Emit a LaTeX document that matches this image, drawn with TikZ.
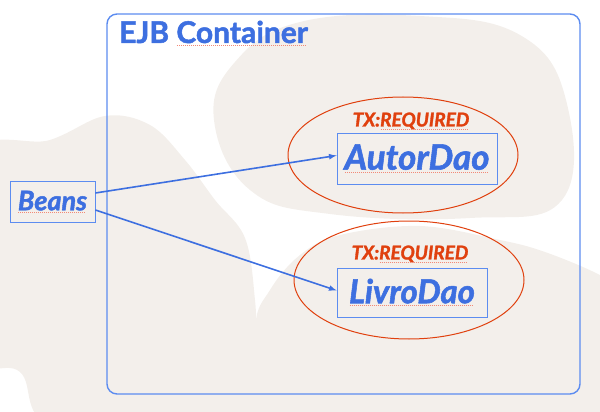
\documentclass[tikz,border=0pt]{standalone}
\usepackage{fontspec}
\setmainfont{Lato}[BoldFeatures={FakeBold=1.6},BoldItalicFeatures={FakeBold=1.6}]
\usetikzlibrary{arrows,shapes.geometric}

\definecolor{ejbblue}{HTML}{3D6FE0}
\definecolor{boxblue}{HTML}{5C8CF0}
\definecolor{txred}{HTML}{E0400E}
\definecolor{blobgray}{HTML}{F3EFEB}
\definecolor{spellred}{HTML}{F28A78}

\newsavebox{\spellbox}
\newcommand{\spellmark}[1]{\sbox{\spellbox}{#1}\rlap{\usebox{\spellbox}}%
  {\color{spellred}\raisebox{-3pt}{\leaders\hbox to 2pt{\hss\rule{1pt}{0.8pt}\hss}\hskip\wd\spellbox}}}

\begin{document}
\begin{tikzpicture}[x=1pt,y=-1pt,
    daobox/.style={draw=boxblue,line width=0.8pt,text=ejbblue,inner sep=2pt,
      font=\bfseries\itshape\fontsize{34}{34}\selectfont},
    txring/.style={draw=txred,line width=1pt,ellipse,inner sep=0pt},
    txlabel/.style={text=txred,inner sep=0pt,
      font=\bfseries\itshape\fontsize{19}{19}\selectfont},
    call/.style={-latex,draw=ejbblue,line width=1.6pt}]
  \useasboundingbox (0,0) rectangle (600,412);
  % background blobs
  \fill[blobgray] plot[smooth cycle,tension=0.7] coordinates {(214,120) (235,62) (300,22)
    (420,16) (520,35) (566,100) (562,200) (470,218) (330,214) (250,190)};
  \fill[blobgray] plot[smooth cycle,tension=0.6] coordinates {(-30,160) (50,140) (105,116)
    (150,125) (185,160) (215,200) (245,238) (255,300) (258,360) (268,440) (60,430)
    (20,372) (-30,350)};
  \fill[blobgray] plot[smooth cycle,tension=0.6] coordinates {(255,330) (270,290) (300,255)
    (340,235) (420,226) (500,240) (545,252) (600,275) (640,300) (640,440) (262,440)};
  % container
  \draw[boxblue,line width=1.4pt,rounded corners=10pt] (107,14) rectangle (580,394);
  \node[anchor=base west,text=ejbblue,inner sep=0pt,font=\bfseries\fontsize{30}{30}\selectfont]
    (title) at (119,43) {EJB \spellmark{Container}};
  % transaction scopes
  \node[txring,minimum width=230pt,minimum height=116pt] (ringA) at (403,155) {};
  \node[txring,minimum width=230pt,minimum height=118pt] (ringL) at (409,280) {};
  \node[txlabel] (txA) at (411,121) {TX:\spellmark{REQUIRED}};
  \node[txlabel] (txL) at (410,254) {TX:\spellmark{REQUIRED}};
  % beans
  \node[daobox,minimum width=85pt,minimum height=41pt,
    font=\bfseries\itshape\fontsize{27}{27}\selectfont] (beans) at (52.5,202) {\spellmark{Beans}};
  \node[daobox,minimum width=160pt,minimum height=51pt,
    font=\bfseries\itshape\fontsize{35}{35}\selectfont] (autor) at (417,158.5) {\spellmark{AutorDao}};
  \node[daobox,minimum width=150pt,minimum height=49pt,
    font=\bfseries\itshape\fontsize{33}{33}\selectfont] (livro) at (412,292.5) {\spellmark{LivroDao}};
  % calls
  \draw[call] ([yshift=9pt]beans.east) -- ([yshift=3pt]autor.west);
  \draw[call] ([yshift=-8pt]beans.east) -- ([yshift=2pt]livro.west);
\end{tikzpicture}
\end{document}
